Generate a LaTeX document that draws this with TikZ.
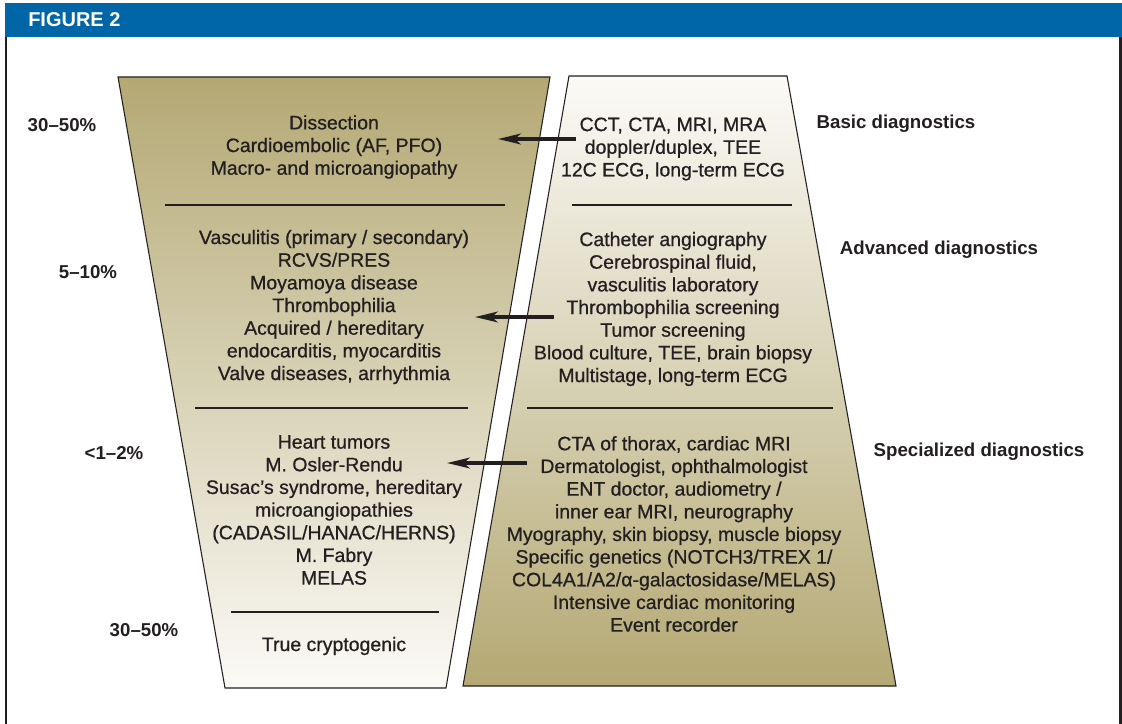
\documentclass[tikz,border=0pt]{standalone}
\usepackage{fontspec}
\setmainfont{Liberation Sans}
\newfontfamily\medfont{Liberation Sans}[FakeBold=0.7]
\usepackage{tikz}
\usetikzlibrary{arrows.meta, positioning}
\definecolor{hdrblue}{RGB}{0,102,168}
\definecolor{mykhaki}{RGB}{180,168,115}
\definecolor{mypale}{RGB}{251,250,246}
\definecolor{mydark}{RGB}{35,31,32}
\tikzset{
  causes/.style={align=center, text=mydark, inner sep=0pt,
    font=\medfont\fontsize{14.6}{17}\selectfont},
  share/.style={text=mydark, inner sep=0pt,
    font=\bfseries\fontsize{14}{17}\selectfont},
  funnel/.style={draw=mydark, line width=0.8pt},
  divider/.style={draw=mydark, line width=0.8pt},
  arrow/.style={-{Stealth[length=17pt, width=8pt, inset=4.5pt]}, line width=2.6pt, color=mydark}
}

\begin{document}
\begin{tikzpicture}[x=0.75pt, y=-0.75pt]
  \useasboundingbox (0,0) rectangle (1122,724);

  % Frame
  \fill[hdrblue] (5,3) rectangle (1122,37);
  \node[anchor=west, text=white, inner sep=0pt, font=\bfseries\fontsize{15}{17}\selectfont] (title) at (28,20) {FIGURE 2};
  \draw[mydark, line width=2pt] (6,37) -- (6,724);
  \draw[mydark, line width=2pt] (1120.5,37) -- (1120.5,724);

  % Funnels
  \shade[top color=mykhaki, bottom color=mypale] (118,77) -- (550,77) -- (446,688) -- (225,688) -- cycle;
  \draw[funnel] (118,77) -- (550,77) -- (446,688) -- (225,688) -- cycle;
  \shade[top color=mypale, bottom color=mykhaki] (569,76) -- (787,76) -- (896,686) -- (463,686) -- cycle;
  \draw[funnel] (569,76) -- (787,76) -- (896,686) -- (463,686) -- cycle;

  % Dividers
  \draw[divider] (165,205) -- (505,205);
  \draw[divider] (195,408) -- (468,408);
  \draw[divider] (231,612) -- (439,612);
  \draw[divider] (572,205) -- (792,205);
  \draw[divider] (527,408) -- (833,408);

  % Causes (left)
  \node[causes] (cbasic) at (334,147) {Dissection\\Cardioembolic (AF, PFO)\\Macro- and microangiopathy};
  \node[causes] (cadv) at (334,307) {Vasculitis (primary / secondary)\\RCVS/PRES\\Moyamoya disease\\Thrombophilia\\Acquired / hereditary\\endocarditis, myocarditis\\Valve diseases, arrhythmia};
  \node[causes] (cspec) at (334,510) {Heart tumors\\M. Osler-Rendu\\Susac’s syndrome, hereditary\\microangiopathies\\(CADASIL/HANAC/HERNS)\\M. Fabry\\MELAS};
  \node[causes] (ccrypt) at (334,646) {True cryptogenic};

  % Diagnostics (right)
  \node[causes] (dbasic) at (673,149) {CCT, CTA, MRI, MRA\\doppler/duplex, TEE\\12C ECG, long-term ECG};
  \node[causes] (dadv) at (673,309) {Catheter angiography\\Cerebrospinal fluid,\\vasculitis laboratory\\Thrombophilia screening\\Tumor screening\\Blood culture, TEE, brain biopsy\\Multistage, long-term ECG};
  \node[causes] (dspec) at (674,534) {CTA of thorax, cardiac MRI\\Dermatologist, ophthalmologist\\ENT doctor, audiometry /\\inner ear MRI, neurography\\Myography, skin biopsy, muscle biopsy\\Specific genetics (NOTCH3/TREX 1/\\COL4A1/A2/α-galactosidase/MELAS)\\Intensive cardiac monitoring\\Event recorder};

  % Shares and stages
  \node[share] (p1) at (62,125) {30--50\%};
  \node[share] (p2) at (88,272) {5--10\%};
  \node[share] (p3) at (114,453) {<1--2\%};
  \node[share] (p4) at (144,630) {30--50\%};
  \node[share] (s1) at (896,124) {Basic diagnostics};
  \node[share] (s2) at (939,250) {Advanced diagnostics};
  \node[share] (s3) at (979,452) {Specialized diagnostics};

  % Connections
  \coordinate (a1s) at (576,139);
  \coordinate (a1e) at (498,139);
  \coordinate (a2s) at (554,317);
  \coordinate (a2e) at (475,317);
  \coordinate (a3s) at (527,463);
  \coordinate (a3e) at (447,463);
  \draw[arrow] (a1s) -- (a1e);
  \draw[arrow] (a2s) -- (a2e);
  \draw[arrow] (a3s) -- (a3e);
\end{tikzpicture}
\end{document}
